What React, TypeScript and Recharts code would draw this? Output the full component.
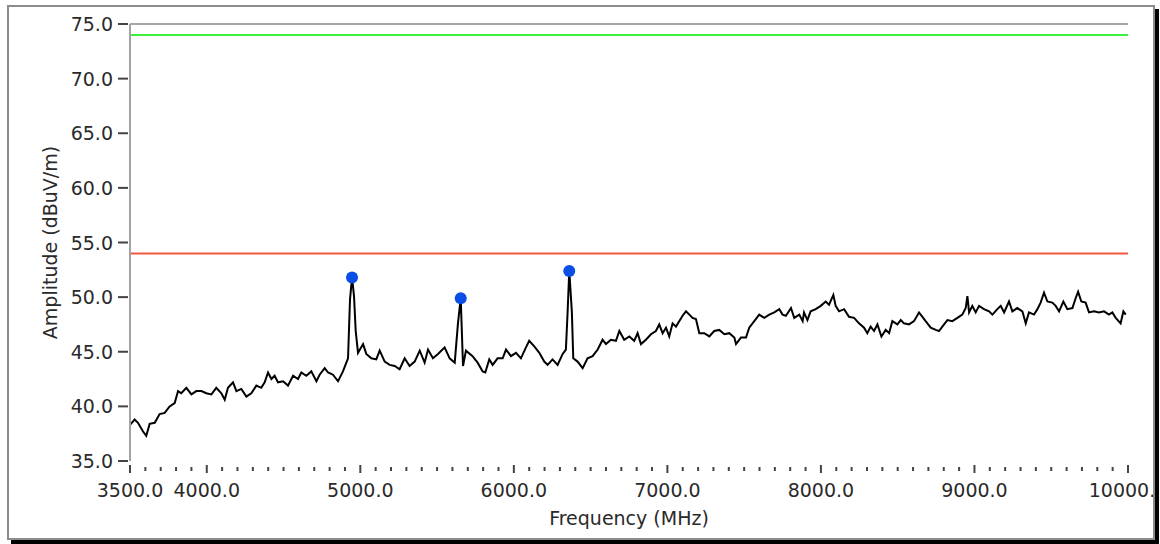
import { ComposedChart, Line, Scatter, XAxis, YAxis, ReferenceLine } from 'recharts'

// sweep, MHz / dBuV/m
const TRACE_FREQ = [
  3500, 3530, 3552, 3585, 3606, 3628, 3661, 3693, 3726, 3758, 3791, 3813, 3834, 3867, 3900, 3932, 3965, 3997,
  4030, 4062, 4095, 4117, 4138, 4171, 4193, 4225, 4258, 4290, 4323, 4355, 4377, 4399, 4421, 4442, 4464, 4497,
  4529, 4562, 4594, 4616, 4648, 4681, 4714, 4735, 4768, 4790, 4822, 4855, 4887, 4920, 4933, 4946, 4959, 4970,
  4985, 5018, 5039, 5072, 5104, 5126, 5159, 5191, 5224, 5256, 5289, 5321, 5354, 5387, 5419, 5441, 5473, 5506,
  5549, 5582, 5615, 5636, 5654, 5669, 5688, 5731, 5764, 5797, 5814, 5840, 5862, 5894, 5927, 5949, 5981, 6014,
  6046, 6079, 6100, 6133, 6166, 6198, 6220, 6252, 6285, 6318, 6339, 6350, 6361, 6378, 6387, 6415, 6448, 6480,
  6513, 6546, 6578, 6600, 6632, 6665, 6687, 6719, 6752, 6784, 6806, 6828, 6860, 6893, 6925, 6947, 6969, 6991,
  7012, 7034, 7056, 7077, 7099, 7121, 7143, 7164, 7186, 7208, 7240, 7273, 7305, 7338, 7371, 7403, 7436, 7447,
  7479, 7512, 7533, 7566, 7598, 7631, 7664, 7696, 7729, 7750, 7772, 7805, 7826, 7859, 7881, 7890, 7912, 7933,
  7966, 7999, 8031, 8053, 8081, 8096, 8118, 8151, 8183, 8216, 8248, 8281, 8302, 8324, 8346, 8368, 8394, 8422,
  8444, 8465, 8498, 8520, 8541, 8574, 8606, 8639, 8661, 8682, 8715, 8748, 8769, 8802, 8824, 8856, 8889, 8921,
  8943, 8954, 8965, 8986, 9008, 9030, 9062, 9095, 9117, 9149, 9171, 9193, 9225, 9247, 9279, 9312, 9334, 9355,
  9388, 9410, 9431, 9453, 9475, 9507, 9529, 9551, 9579, 9605, 9638, 9659, 9675, 9696, 9724, 9746, 9779, 9811,
  9844, 9876, 9898, 9920, 9952, 9970, 9985,
]

const TRACE_AMP = [
  38.3, 38.8, 38.5, 37.7, 37.3, 38.4, 38.5, 39.3, 39.4, 40.0, 40.3, 41.4, 41.2, 41.7, 41.1, 41.4, 41.4, 41.2,
  41.1, 41.7, 41.2, 40.6, 41.7, 42.2, 41.4, 41.6, 40.9, 41.2, 41.9, 41.7, 42.2, 43.1, 42.5, 42.8, 42.2, 42.3,
  41.9, 42.8, 42.5, 43.1, 42.8, 43.2, 42.3, 42.9, 43.5, 43.1, 42.9, 42.3, 43.2, 44.4, 49.8, 51.8, 50.1, 46.9,
  44.9, 45.7, 44.8, 44.4, 44.3, 45.1, 44.1, 43.8, 43.7, 43.4, 44.4, 43.7, 44.1, 45.1, 44.0, 45.2, 44.4, 44.8,
  45.4, 44.4, 44.0, 47.6, 49.9, 43.7, 45.1, 44.6, 44.0, 43.2, 43.1, 44.3, 43.8, 44.4, 44.4, 45.2, 44.6, 44.9,
  44.4, 45.4, 46.0, 45.5, 44.9, 44.1, 43.8, 44.3, 43.8, 44.8, 45.2, 48.6, 52.4, 48.6, 44.4, 44.1, 43.5, 44.4,
  44.6, 45.2, 46.1, 45.7, 46.1, 46.0, 46.9, 46.1, 46.4, 46.0, 46.7, 45.7, 46.1, 46.6, 46.9, 47.5, 46.7, 47.2,
  46.4, 47.6, 47.3, 47.8, 48.3, 48.7, 48.4, 48.1, 48.0, 46.7, 46.7, 46.4, 46.9, 47.0, 46.6, 46.7, 46.3, 45.7,
  46.3, 46.3, 47.2, 47.8, 48.4, 48.1, 48.4, 48.6, 48.9, 48.4, 48.3, 49.0, 48.1, 48.4, 47.8, 48.6, 47.9, 48.7,
  48.9, 49.2, 49.6, 49.3, 50.2, 49.2, 48.7, 48.9, 48.2, 48.1, 47.6, 47.2, 46.7, 47.3, 46.9, 47.5, 46.4, 47.0,
  46.7, 47.8, 47.5, 47.9, 47.6, 47.5, 47.8, 48.6, 48.2, 47.8, 47.2, 47.0, 46.9, 47.5, 47.9, 47.8, 48.1, 48.4,
  49.0, 50.1, 48.6, 49.2, 48.6, 49.2, 48.9, 48.7, 48.4, 48.9, 49.2, 48.6, 49.6, 48.7, 49.0, 48.7, 47.6, 48.6,
  48.4, 48.9, 49.5, 50.4, 49.6, 49.5, 49.2, 48.7, 49.6, 48.9, 49.0, 49.9, 50.5, 49.6, 49.5, 48.6, 48.7, 48.6,
  48.7, 48.4, 48.6, 48.1, 47.6, 48.7, 48.4,
]

const PEAK_FREQ = [4946, 5654, 6361]
const PEAK_AMP = [51.8, 49.9, 52.4]

const UPPER_LIMIT = 74
const LOWER_LIMIT = 54

const Y_TICKS = [35, 40, 45, 50, 55, 60, 65, 70, 75]
const X_MAJOR = [3500, 4000, 5000, 6000, 7000, 8000, 9000, 10000]
// minor marks every 100 MHz
const X_TICKS = Array.from({ length: 66 }, (_, i) => 3500 + i * 100)

const trace = TRACE_FREQ.map((f, i) => ({ f, a: TRACE_AMP[i] }))
const peaks = PEAK_FREQ.map((f, i) => ({ f, a: PEAK_AMP[i] }))

const FONT = 'DejaVu Sans'
const TEXT = '#2a2a2a'

function YTick({ x, y, payload }: any) {
  return (
    <g>
      <line x1={x - 12} x2={x - 2} y1={y} y2={y} stroke="#444" strokeWidth={2} />
      <text x={x - 17} y={y} dy={7} textAnchor="end" fill={TEXT} fontSize={19} fontFamily={FONT}>
        {Number(payload.value).toFixed(1)}
      </text>
    </g>
  )
}

function XTick({ x, y, payload }: any) {
  const major = X_MAJOR.includes(payload.value)
  return (
    <g>
      <line x1={x} x2={x} y1={y + (major ? 4 : 6)} y2={y + (major ? 12 : 10)} stroke="#444" strokeWidth={2} />
      {major && (
        <text x={x} y={y + 36} textAnchor="middle" fill={TEXT} fontSize={19} fontFamily={FONT}>
          {Number(payload.value).toFixed(1)}
        </text>
      )}
    </g>
  )
}

export default function App() {
  return (
    <div style={{ position: 'fixed', left: 0, top: 0, width: 1160, height: 544, background: '#fff' }}>
      <div
        style={{
          position: 'absolute',
          left: 7,
          top: 5,
          width: 1144,
          height: 531,
          border: '2px solid #8c8c8c',
          boxShadow: '4px 4px 0 #000',
          overflow: 'hidden',
          background: '#fff',
        }}
      >
        <div style={{ position: 'absolute', left: -9, top: -7 }}>
          <ComposedChart width={1160} height={544} margin={{ top: 24, right: 32, bottom: 43, left: 0 }}>
            <XAxis
              type="number"
              dataKey="f"
              domain={[3500, 10000]}
              ticks={X_TICKS}
              interval={0}
              tick={XTick}
              tickLine={false}
              axisLine={false}
              tickSize={0}
              tickMargin={0}
              height={40}
              allowDataOverflow
              label={{
                content: ({ viewBox }: any) => (
                  <text
                    x={viewBox.x + viewBox.width / 2}
                    y={viewBox.y + 64}
                    textAnchor="middle"
                    fill={TEXT}
                    fontSize={19}
                    fontFamily={FONT}
                  >
                    Frequency (MHz)
                  </text>
                ),
              }}
            />
            <YAxis
              type="number"
              domain={[35, 75]}
              ticks={Y_TICKS}
              interval={0}
              width={130}
              tick={YTick}
              tickLine={false}
              tickSize={0}
              tickMargin={0}
              axisLine={{ stroke: '#a3a3a3', strokeWidth: 2 }}
              allowDataOverflow
              label={{
                content: ({ viewBox }: any) => {
                  const cx = 50
                  const cy = viewBox.y + viewBox.height / 2
                  return (
                    <text
                      x={cx}
                      y={cy}
                      transform={`rotate(-90 ${cx} ${cy})`}
                      textAnchor="middle"
                      dominantBaseline="central"
                      fill={TEXT}
                      fontSize={19}
                      fontFamily={FONT}
                    >
                      Amplitude (dBuV/m)
                    </text>
                  )
                },
              }}
            />
            <ReferenceLine y={75} stroke="#a6a6a6" strokeWidth={2} />
            <ReferenceLine y={UPPER_LIMIT} stroke="#3cf03c" strokeWidth={2} />
            <ReferenceLine y={LOWER_LIMIT} stroke="#f2573f" strokeWidth={2} />
            <Line
              data={trace}
              dataKey="a"
              type="linear"
              stroke="#000"
              strokeWidth={2}
              dot={false}
              isAnimationActive={false}
            />
            <Scatter
              data={peaks}
              dataKey="a"
              isAnimationActive={false}
              shape={(p: any) => <circle cx={p.cx} cy={p.cy} r={6} fill="#0a4ee6" />}
            />
          </ComposedChart>
        </div>
      </div>
    </div>
  )
}
